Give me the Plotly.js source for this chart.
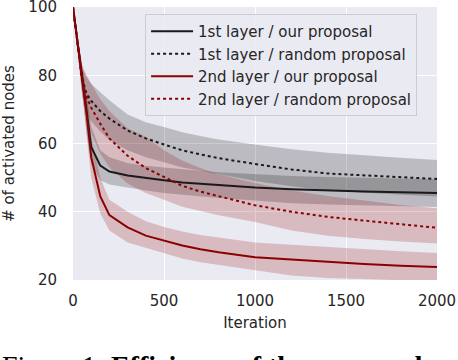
<!DOCTYPE html>
<html>
<head>
<meta charset="utf-8">
<script src="https://cdn.plot.ly/plotly-3.0.1.min.js"></script>
<style>html,body{margin:0;padding:0;background:#fff;}#chart{width:458px;height:360px;}</style>
</head>
<body>
<div id="chart"></div>
<script>
// Iteration grid
const iterations = [0, 25, 50, 75, 100, 150, 200, 300, 400, 500, 600, 700, 800, 1000, 1200, 1400, 1600, 1800, 2000];

// 1st layer / our proposal
const l1OurMean  = [100, 89.5, 78.5, 68.5, 59, 53.5, 51.8, 50.6, 49.8, 49.2, 48.6, 48.2, 47.8, 47.1, 46.6, 46.2, 45.9, 45.7, 45.5];
const l1OurUpper = [100, 92, 83, 74, 65, 58, 56, 54.3, 53.5, 53, 52.4, 52, 51.6, 51, 50.5, 50.2, 49.9, 49.7, 49.5];
const l1OurLower = [100, 87, 74, 63, 54, 49.2, 48, 47, 46.2, 45.5, 45, 44.5, 44, 43.3, 42.5, 42.1, 41.8, 41.6, 41.4];

// 1st layer / random proposal
const l1RndMean  = [100, 89.5, 79, 74.5, 72.5, 69.5, 67.3, 63.8, 61.5, 59.7, 58, 56.8, 55.7, 54, 52.4, 51.2, 50.6, 50, 49.6];
const l1RndUpper = [100, 91, 82, 79.5, 77.5, 75, 72.7, 68.5, 66.2, 64.8, 63.3, 62.2, 61.2, 59.7, 58.3, 57.3, 56.5, 55.8, 55.2];
const l1RndLower = [100, 88, 76, 69, 66.5, 63.5, 61, 58, 56, 54.5, 53, 52, 51, 49, 47.5, 46.2, 45.6, 45, 44.5];

// 2nd layer / our proposal
const l2OurMean  = [100, 89.5, 78.5, 68.5, 56, 44.5, 39, 35.4, 33, 31.5, 30.1, 29, 28.1, 26.7, 26, 25.3, 24.7, 24.2, 23.8];
const l2OurUpper = [100, 92, 83, 74, 62, 50, 43.5, 40, 37.2, 35.5, 34.2, 33.2, 32.4, 31, 30.3, 29.6, 29, 28.4, 27.9];
const l2OurLower = [100, 87, 74, 63, 50, 39.5, 34.5, 31, 29.4, 27.8, 26.3, 25.2, 24.4, 22.9, 21.3, 20.6, 20.2, 19.9, 19.6];

// 2nd layer / random proposal
const l2RndMean  = [100, 89.5, 78.5, 73.5, 70.5, 65.8, 61.5, 56.4, 52.8, 50.2, 47.6, 45.9, 44.5, 41.9, 40, 38.5, 37.4, 36.3, 35.3];
const l2RndUpper = [100, 92, 83, 80, 77.5, 73, 69.5, 64.5, 62, 58, 55, 52.8, 51, 48.4, 46.2, 44.6, 43.2, 42, 41];
const l2RndLower = [100, 87, 74, 67, 63, 57, 53, 48.3, 45.5, 43.5, 41.5, 40.2, 39, 37, 34.5, 33, 32, 31.3, 30.7];

const seriesNames = ["1st layer / our proposal", "1st layer / random proposal", "2nd layer / our proposal", "2nd layer / random proposal"];
const xTicks = [0, 500, 1000, 1500, 2000];
const yTicks = [20, 40, 60, 80, 100];

const BLACK = "#1a1a1a";
const RED = "#8b0000";
const GREY_FILL = "rgba(0,0,0,0.2)";
const RED_FILL = "rgba(139,0,0,0.2)";

function band(lower, upper, fill) {
  return [
    {x: iterations, y: lower, mode: "lines", line: {width: 0, color: fill}, showlegend: false, hoverinfo: "skip"},
    {x: iterations, y: upper, mode: "lines", line: {width: 0, color: fill}, fill: "tonexty", fillcolor: fill, showlegend: false, hoverinfo: "skip"}
  ];
}
function line(y, name, color, dash, group) {
  return {x: iterations, y: y, mode: "lines", name: name, legendgroup: group,
          line: {color: color, width: 2, dash: dash}};
}

const data = [].concat(
  band(l1OurLower, l1OurUpper, GREY_FILL),
  band(l1RndLower, l1RndUpper, GREY_FILL),
  band(l2OurLower, l2OurUpper, RED_FILL),
  band(l2RndLower, l2RndUpper, RED_FILL),
  [
    line(l1OurMean, seriesNames[0], BLACK, "solid", "a"),
    line(l1RndMean, seriesNames[1], BLACK, "dot", "b"),
    line(l2OurMean, seriesNames[2], RED, "solid", "c"),
    line(l2RndMean, seriesNames[3], RED, "dot", "d")
  ]
);

const font = {family: "DejaVu Sans", size: 15, color: "#262626"};

const layout = {
  width: 458, height: 360,
  margin: {l: 73, r: 21, t: 7, b: 80, pad: 0},
  paper_bgcolor: "#ffffff",
  plot_bgcolor: "#EAEAF2",
  font: font,
  showlegend: true,
  legend: {
    x: 0.198, y: 0.974, xanchor: "left", yanchor: "top",
    bgcolor: "rgba(234,234,242,0.85)", bordercolor: "#cccccc", borderwidth: 1,
    font: font, tracegroupgap: 0, traceorder: "normal", itemwidth: 42
  },
  xaxis: {
    range: [0, 2000], tickvals: xTicks, ticktext: xTicks.map(String),
    showgrid: true, gridcolor: "#ffffff", gridwidth: 1, zeroline: false, showline: false,
    ticks: "", ticklabelstandoff: 10, tickfont: font, ticklabeloverflow: "allow",
    title: {text: "Iteration", font: font, standoff: 8}
  },
  yaxis: {
    range: [20, 100], tickvals: yTicks, ticktext: yTicks.map(String),
    showgrid: true, gridcolor: "#ffffff", gridwidth: 1, zeroline: false, showline: false,
    ticks: "", ticklabelstandoff: 15, tickfont: font, ticklabeloverflow: "allow",
    title: {text: "# of activated nodes", font: font, standoff: 13}
  },
  annotations: [{
    xref: "paper", yref: "paper", x: -0.2, y: -0.248, xanchor: "left", yanchor: "top",
    showarrow: false, align: "left",
    text: "Figure 1: <b>Efficiency of the proposed</b>",
    font: {family: "Liberation Serif", size: 28, color: "#000000"}
  }]
};

Plotly.newPlot("chart", data, layout, {displayModeBar: false, staticPlot: true});
</script>
</body>
</html>
